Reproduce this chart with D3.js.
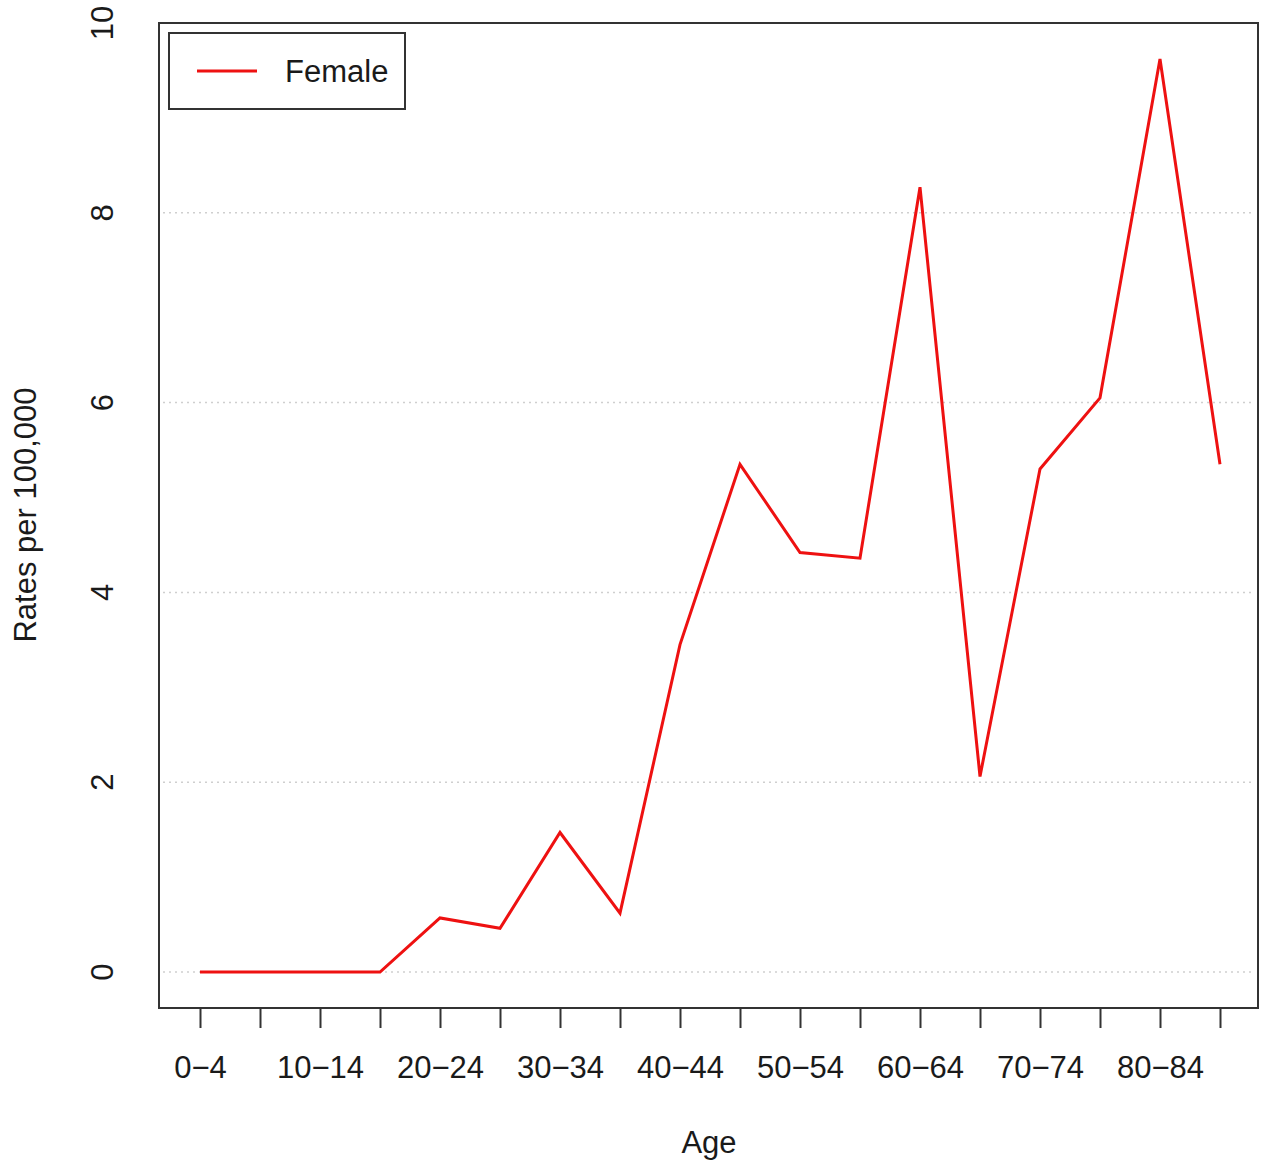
<!DOCTYPE html>
<html>
<head>
<meta charset="utf-8">
<script src="https://cdn.jsdelivr.net/npm/d3@7"></script>
<style>
  html, body { margin: 0; padding: 0; background: #fff; }
  text { font-family: "Liberation Sans", Arial, Helvetica, sans-serif; fill: #1a1a1a; }
</style>
</head>
<body>
<svg id="chart" width="1263" height="1165"></svg>
<script>
const categories = ["0-4","5-9","10-14","15-19","20-24","25-29","30-34","35-39","40-44","45-49","50-54","55-59","60-64","65-69","70-74","75-79","80-84","85+"];
const femaleRates = [0, 0, 0, 0, 0.57, 0.46, 1.47, 0.62, 3.45, 5.35, 4.42, 4.36, 8.27, 2.06, 5.30, 6.05, 9.62, 5.35];
const yTicks = [0, 2, 4, 6, 8, 10];
const gridTicks = [0, 2, 4, 6, 8];
const xLabelCategories = ["0-4","10-14","20-24","30-34","40-44","50-54","60-64","70-74","80-84"];
const seriesName = "Female";

const svg = d3.select("#chart");
const box = { left: 159, top: 23, right: 1258, bottom: 1008 };

const x = d3.scalePoint().domain(categories).range([200, 1220]);
const y = d3.scaleLinear().domain([0, 10]).range([972, 23]);

// grid
svg.append("g").selectAll("line").data(gridTicks).join("line")
  .attr("x1", box.left + 4).attr("x2", box.right - 4)
  .attr("y1", d => y(d)).attr("y2", d => y(d))
  .attr("stroke", "#cfcfcf").attr("stroke-width", 1.5)
  .attr("stroke-dasharray", "2,4");

// line
const line = d3.line().x((d, i) => x(categories[i])).y(d => y(d));
svg.append("path").datum(femaleRates)
  .attr("d", line)
  .attr("fill", "none").attr("stroke", "#ee1111")
  .attr("stroke-width", 3).attr("stroke-linejoin", "miter");

// plot box
svg.append("rect")
  .attr("x", box.left).attr("y", box.top)
  .attr("width", box.right - box.left).attr("height", box.bottom - box.top)
  .attr("fill", "none").attr("stroke", "#333").attr("stroke-width", 2);

// x axis ticks
const xAxis = d3.axisBottom(x).tickSize(20).tickSizeOuter(0)
  .tickFormat(d => xLabelCategories.includes(d) ? d.replace("-", "\u2212") : "");
const gx = svg.append("g").attr("transform", `translate(0,${box.bottom})`).call(xAxis);
gx.select(".domain").remove();
gx.selectAll(".tick line").attr("stroke", "#333").attr("stroke-width", 2);
gx.selectAll(".tick text")
  .attr("y", 0).attr("dy", null)
  .attr("transform", "translate(0,70)")
  .style("font-size", "31px")
  .style("font-family", '"Liberation Sans", Arial, sans-serif')
  .attr("fill", "#1a1a1a");

// y axis labels (rotated, no tick marks)
svg.append("g").selectAll("text").data(yTicks).join("text")
  .attr("transform", d => `translate(113,${y(d)}) rotate(-90)`)
  .attr("text-anchor", "middle")
  .style("font-size", "31px")
  .text(d => d);

// axis titles
svg.append("text")
  .attr("transform", "translate(36,515) rotate(-90)")
  .attr("text-anchor", "middle")
  .style("font-size", "31px")
  .text("Rates per 100,000");

svg.append("text")
  .attr("x", 709).attr("y", 1153)
  .attr("text-anchor", "middle")
  .style("font-size", "31px")
  .text("Age");

// legend
const lg = svg.append("g");
lg.append("rect").attr("x", 169).attr("y", 33).attr("width", 236).attr("height", 76)
  .attr("fill", "#fff").attr("stroke", "#333").attr("stroke-width", 2);
lg.append("line").attr("x1", 197).attr("x2", 257).attr("y1", 71).attr("y2", 71)
  .attr("stroke", "#ee1111").attr("stroke-width", 3);
lg.append("text").attr("x", 285).attr("y", 82)
  .style("font-size", "31px").text(seriesName);
</script>
</body>
</html>
